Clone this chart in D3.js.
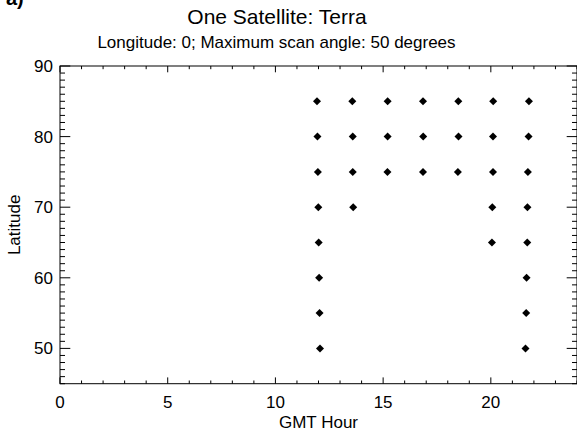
<!DOCTYPE html>
<html>
<head>
<meta charset="utf-8">
<script src="https://cdn.jsdelivr.net/npm/d3@7"></script>
<style>
  html, body { margin: 0; padding: 0; background: #fff; }
  svg { display: block; font-family: "Liberation Sans", Arial, sans-serif; }
</style>
</head>
<body>
<svg id="chart" width="577" height="431"></svg>
<script>
// ---- data ----
const panelLabel = "a)";
const titleText = "One Satellite: Terra";
const subtitleText = "Longitude: 0; Maximum scan angle: 50 degrees";
const xLabel = "GMT Hour";
const yLabel = "Latitude";
const xTicks = [0, 5, 10, 15, 20];
const yTicks = [50, 60, 70, 80, 90];
const xDomain = [0, 24];
const yDomain = [45, 90];

// sample times (GMT hour) observed at each latitude
const row85 = [11.93, 13.57, 15.21, 16.85, 18.49, 20.11, 21.77];
const row80 = [11.95, 13.59, 15.21, 16.86, 18.50, 20.10, 21.75];
const row75 = [11.97, 13.59, 15.20, 16.85, 18.47, 20.10, 21.72];
const row70 = [11.99, 13.61, 20.07, 21.70];
const row65 = [12.01, 20.05, 21.69];
const row60 = [12.03, 21.66];
const row55 = [12.05, 21.64];
const row50 = [12.07, 21.61];
const latitudes = [85, 80, 75, 70, 65, 60, 55, 50];
const rows = [row85, row80, row75, row70, row65, row60, row55, row50];

(function () {
const points = [];
rows.forEach((r, i) => r.forEach(h => points.push({hour: h, lat: latitudes[i]})));

// ---- layout ----
const svg = d3.select("#chart");
const mLeft = 60, mRight = 577, mTop = 66, mBottom = 383.7;
const x = d3.scaleLinear().domain(xDomain).range([mLeft, mRight]);
const y = d3.scaleLinear().domain(yDomain).range([mBottom, mTop]);

const ink = "#000";
const fontSize = 17;

// frame
svg.append("rect")
  .attr("x", mLeft).attr("y", mTop)
  .attr("width", mRight - mLeft).attr("height", mBottom - mTop)
  .attr("fill", "none").attr("stroke", ink).attr("stroke-width", 1);

// ticks
const xMinor = d3.range(xDomain[0], xDomain[1] + 1, 1);
const yMinor = d3.range(yDomain[0], yDomain[1] + 1, 1);
const xMajLen = 6.3, xMinLen = 3.2, yMajLen = 10.3, yMinLen = 5;

const tg = svg.append("g").attr("stroke", ink).attr("stroke-width", 1);
xMinor.forEach(v => {
  const len = (v % 5 === 0) ? xMajLen : xMinLen;
  tg.append("line").attr("x1", x(v)).attr("x2", x(v)).attr("y1", mBottom).attr("y2", mBottom - len);
  tg.append("line").attr("x1", x(v)).attr("x2", x(v)).attr("y1", mTop).attr("y2", mTop + len);
});
yMinor.forEach(v => {
  const len = (v % 10 === 0) ? yMajLen : yMinLen;
  tg.append("line").attr("x1", mLeft).attr("x2", mLeft + len).attr("y1", y(v)).attr("y2", y(v));
  tg.append("line").attr("x1", mRight).attr("x2", mRight - len).attr("y1", y(v)).attr("y2", y(v));
});

// tick labels
svg.append("g").selectAll("text").data(xTicks).join("text")
  .attr("x", d => x(d)).attr("y", 408)
  .attr("text-anchor", "middle")
  .attr("font-size", fontSize).attr("fill", ink)
  .text(d => d);

svg.append("g").selectAll("text").data(yTicks).join("text")
  .attr("x", 53).attr("y", d => y(d))
  .attr("dy", "0.35em")
  .attr("text-anchor", "end")
  .attr("font-size", fontSize).attr("fill", ink)
  .text(d => d);

// axis titles
svg.append("text")
  .attr("x", (mLeft + mRight) / 2).attr("y", 428)
  .attr("text-anchor", "middle")
  .attr("font-size", fontSize).attr("fill", ink)
  .text(xLabel);

svg.append("text")
  .attr("transform", `translate(20, ${(mTop + mBottom) / 2}) rotate(-90)`)
  .attr("text-anchor", "middle")
  .attr("font-size", fontSize).attr("fill", ink)
  .text(yLabel);

// titles
svg.append("text")
  .attr("x", 277).attr("y", 23.5)
  .attr("text-anchor", "middle")
  .attr("font-size", 21).attr("fill", ink)
  .text(titleText);

svg.append("text")
  .attr("x", 276.5).attr("y", 48)
  .attr("text-anchor", "middle")
  .attr("font-size", 17).attr("fill", ink)
  .text(subtitleText);

svg.append("text")
  .attr("x", 6).attr("y", 5)
  .attr("font-size", 20).attr("font-weight", "bold").attr("fill", ink)
  .text(panelLabel);

// diamond markers
const diamond = {
  draw(ctx, size) {
    const r = Math.sqrt(size / 2);
    ctx.moveTo(0, -r); ctx.lineTo(r, 0); ctx.lineTo(0, r); ctx.lineTo(-r, 0); ctx.closePath();
  }
};
svg.append("g").selectAll("path").data(points).join("path")
  .attr("transform", d => `translate(${x(d.hour)},${y(d.lat)})`)
  .attr("d", d3.symbol().type(diamond).size(32))
  .attr("fill", ink);
})();
</script>
</body>
</html>
